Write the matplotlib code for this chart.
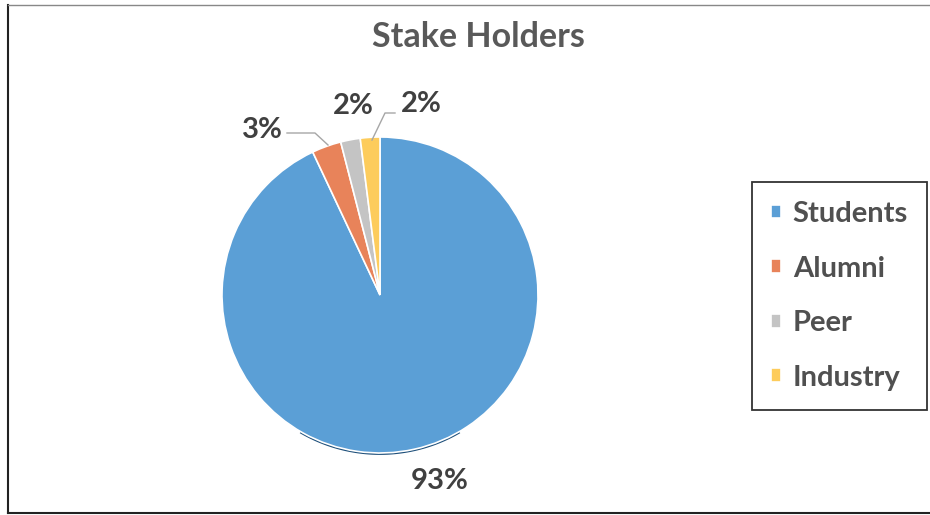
import matplotlib.pyplot as plt
import numpy as np

# data
labels = ['Students', 'Alumni', 'Peer', 'Industry']
values = [93, 3, 2, 2]
colors = ['#5b9fd6', '#e8835a', '#c4c4c4', '#fdcc5c']

plt.rcParams['font.family'] = ['Lato', 'DejaVu Sans']

fig = plt.figure(figsize=(9.3, 5.15), dpi=100)
ax = fig.add_axes([0, 0, 1, 1])

cx, cy, r = 380, 295, 158
# y axis is inverted (pixel-like coords), so start at -90 and go counterclockwise
wedges, _ = ax.pie(values, colors=colors, startangle=-90, counterclock=True,
                   center=(cx, cy), radius=r, frame=True,
                   wedgeprops=dict(edgecolor='white', linewidth=1.2))
ax.set_xlim(0, 930)
ax.set_ylim(515, 0)
ax.set_aspect('equal')
ax.axis('off')

# shadow arc under bottom
theta = np.linspace(np.radians(240), np.radians(300), 100)
ax.plot(cx + r * np.cos(theta), cy - r * np.sin(theta) + 1, color='#1d4f7a', lw=1.3, zorder=0)

# percentage labels
txt_color = '#404040'
fs = 21
ax.text(440, 481, '93%', ha='center', va='center', fontsize=fs, fontweight='bold', color=txt_color)
ax.text(262, 130, '3%', ha='center', va='center', fontsize=fs, fontweight='bold', color=txt_color)
ax.text(353, 106, '2%', ha='center', va='center', fontsize=fs, fontweight='bold', color=txt_color)
ax.text(421, 104, '2%', ha='center', va='center', fontsize=fs, fontweight='bold', color=txt_color)
lc = '#a6a6a6'
ax.plot([287, 315, 328], [133, 133, 145], color=lc, lw=1)
ax.plot([395, 385, 372], [113, 113, 140], color=lc, lw=1)

ax.text(478, 37, 'Stake Holders', ha='center', va='center', fontsize=24.5,
        fontweight='bold', color='#595959')

# legend
leg = fig.legend(wedges, labels, loc='upper left', bbox_to_anchor=(752 / 930, 1 - 182 / 515),
                 frameon=True, fancybox=False, edgecolor='black', handlelength=0.35,
                 handleheight=0.35, handletextpad=0.4, labelspacing=0.98,
                 borderpad=0.65, borderaxespad=0, prop=dict(size=21, weight='bold'))
leg.get_frame().set_linewidth(1.3)
for t in leg.get_texts():
    t.set_color('#505050')

# chart border
ax.plot([8, 8], [5, 513], color='#222222', lw=1.5)
ax.plot([8, 930], [5, 5], color='#888888', lw=1)
ax.plot([8, 930], [513, 513], color='#222222', lw=1.5)

fig.savefig('out.png', dpi=100)
